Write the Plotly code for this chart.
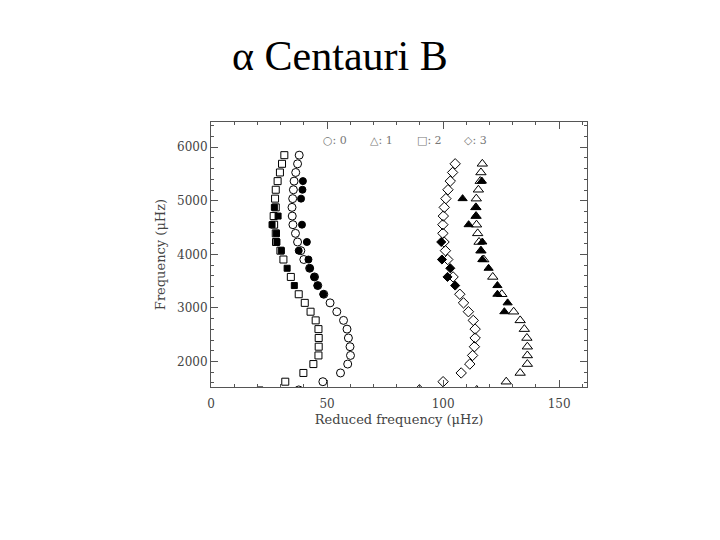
import plotly.graph_objects as go

# ---- data (echelle diagram, alpha Cen B) ----
# l = 0 (circles)
l0_open_nu = [5851, 5690, 5528, 5367, 5206, 5040, 4877, 4715, 4554, 4392, 4231, 4069,
              3904, 3741, 3579, 3418, 3256, 3095, 2930, 2768, 2605, 2440, 2277, 2114,
              1953, 1787, 1624, 1470]
l0_open_x = [38.0, 37.3, 36.5, 35.8, 35.5, 35.2, 34.9, 35.0, 35.3, 36.4, 37.3, 38.7,
             40.0, 42.5, 44.6, 46.0, 48.6, 51.3, 54.2, 57.1, 58.6, 59.2, 59.9, 60.1,
             58.9, 55.8, 48.2, 37.8]
l0_fill_nu = [5367, 5206, 5040, 4554, 4231, 4069, 3904, 3741, 3579, 3418, 3256]
l0_fill_x = [39.6, 39.4, 38.8, 39.2, 41.3, 37.8, 42.0, 42.6, 44.5, 45.9, 48.4]

# l = 1 (triangles)
l1_open_nu = [5690, 5528, 5367, 5206, 5040, 4877, 4715, 4554, 4392, 4231, 4069, 3904,
              3579, 3256, 2930, 2768, 2605, 2440, 2277, 2114, 1953, 1787, 1624, 1470]
l1_open_x = [116.9, 116.3, 116.0, 115.2, 114.3, 114.1, 114.2, 114.4, 114.9, 115.5, 116.3, 117.5,
             121.4, 125.3, 130.4, 133.2, 135.0, 136.1, 136.3, 136.3, 136.3, 133.2, 127.2, 114.5]
l1_fill_nu = [5367, 5040, 4877, 4715, 4554, 4231, 4069, 3904, 3741, 3418, 3256, 3095, 2930]
l1_fill_x = [116.7, 108.4, 114.2, 114.1, 111.0, 116.9, 116.3, 116.9, 119.6, 123.4, 123.4, 127.8, 126.4]

# l = 2 (squares)
l2_open_nu = [5851, 5690, 5528, 5367, 5206, 5040, 4877, 4715, 4554, 4392, 4231, 4069,
              3904, 3579, 3256, 3095, 2930, 2768, 2605, 2440, 2277, 2114, 1953, 1787, 1624]
l2_open_x = [31.6, 30.6, 29.7, 28.7, 27.9, 27.6, 27.9, 27.0, 27.2, 27.9, 28.0, 29.9,
             31.2, 34.4, 37.8, 40.4, 42.9, 45.1, 46.3, 46.4, 46.4, 46.3, 44.1, 39.8, 32.0]
l2_fill_nu = [4877, 4715, 4554, 4392, 4231, 4069, 3741, 3418, 1470]
l2_fill_x = [27.3, 28.9, 26.3, 28.2, 28.4, 30.3, 32.8, 35.9, 21.1]

# l = 3 (diamonds)
l3_open_nu = [5690, 5528, 5367, 5206, 5040, 4877, 4715, 4554, 4392, 4231, 4069, 3904,
              3579, 3256, 3095, 2930, 2768, 2605, 2440, 2277, 2114, 1953, 1787, 1624, 1470]
l3_open_x = [105.2, 104.1, 103.1, 102.1, 101.2, 100.5, 100.1, 99.9, 99.9, 100.4, 101.0, 102.0,
             104.3, 107.2, 108.8, 110.9, 113.0, 113.8, 113.8, 113.5, 112.7, 111.5, 107.8, 100.0, 89.8]
l3_fill_nu = [4231, 3904, 3741, 3579, 3418]
l3_fill_x = [99.2, 99.5, 103.1, 101.9, 105.2]

legend_labels = ["\u25cb: 0", "\u25b3: 1", "\u25a1: 2", "\u25c7: 3"]
x_ticks = [0, 50, 100, 150]
y_ticks = [2000, 3000, 4000, 5000, 6000]

fig = go.Figure()

def add(x, y, symbol, size):
    fig.add_trace(go.Scatter(
        x=x, y=y, mode="markers", showlegend=False,
        marker=dict(symbol=symbol, size=size, color="black",
                    line=dict(color="black", width=1)),
    ))

add(l2_open_x, l2_open_nu, "square-open", 7)
add(l0_open_x, l0_open_nu, "circle-open", 8)
add(l3_open_x, l3_open_nu, "diamond-open", 8)
add(l1_open_x, l1_open_nu, "triangle-up-open", 9)
add(l2_fill_x, l2_fill_nu, "square", 6)
add(l0_fill_x, l0_fill_nu, "circle", 7)
add(l3_fill_x, l3_fill_nu, "diamond", 7)
add(l1_fill_x, l1_fill_nu, "triangle-up", 8)

axis_font = dict(family="DejaVu Serif", size=12, color="#444")
title_font = dict(family="DejaVu Serif", size=13, color="#444")

fig.update_xaxes(
    range=[0, 162], tickvals=x_ticks, ticks="inside", ticklen=7, tickcolor="#555",
    showline=True, linecolor="#555", linewidth=1, mirror="allticks",
    showgrid=False, zeroline=False, tickfont=axis_font,
    minor=dict(dtick=10, ticks="inside", ticklen=3, tickcolor="#555"),
    ticklabelstandoff=6,
    title=dict(text="Reduced frequency (\u03bcHz)", font=title_font, standoff=4),
)
fig.update_yaxes(
    range=[1525, 6470], tickvals=y_ticks, ticks="inside", ticklen=7, tickcolor="#555",
    showline=True, linecolor="#555", linewidth=1, mirror="allticks",
    showgrid=False, zeroline=False, tickfont=axis_font,
    minor=dict(dtick=200, ticks="inside", ticklen=3, tickcolor="#555"),
    title=dict(text="Frequency (\u03bcHz)", font=title_font, standoff=8),
)

leg_x = [0.293, 0.418, 0.543, 0.668]
for lx, txt in zip(leg_x, legend_labels):
    fig.add_annotation(x=lx, y=0.932, xref="paper", yref="paper", text=txt,
                       showarrow=False, xanchor="left", yanchor="middle",
                       font=dict(family="DejaVu Serif", size=11, color="#777"))

fig.update_layout(
    width=720, height=540,
    margin=dict(l=203, r=141, t=114, b=161),
    paper_bgcolor="white", plot_bgcolor="white",
    title=dict(text="\u03b1 Centauri B", xref="container", x=0.461, xanchor="center",
               yref="container", y=0.913, yanchor="middle",
               font=dict(family="Liberation Serif", size=42, color="black")),
)

fig.write_html("out.html")
